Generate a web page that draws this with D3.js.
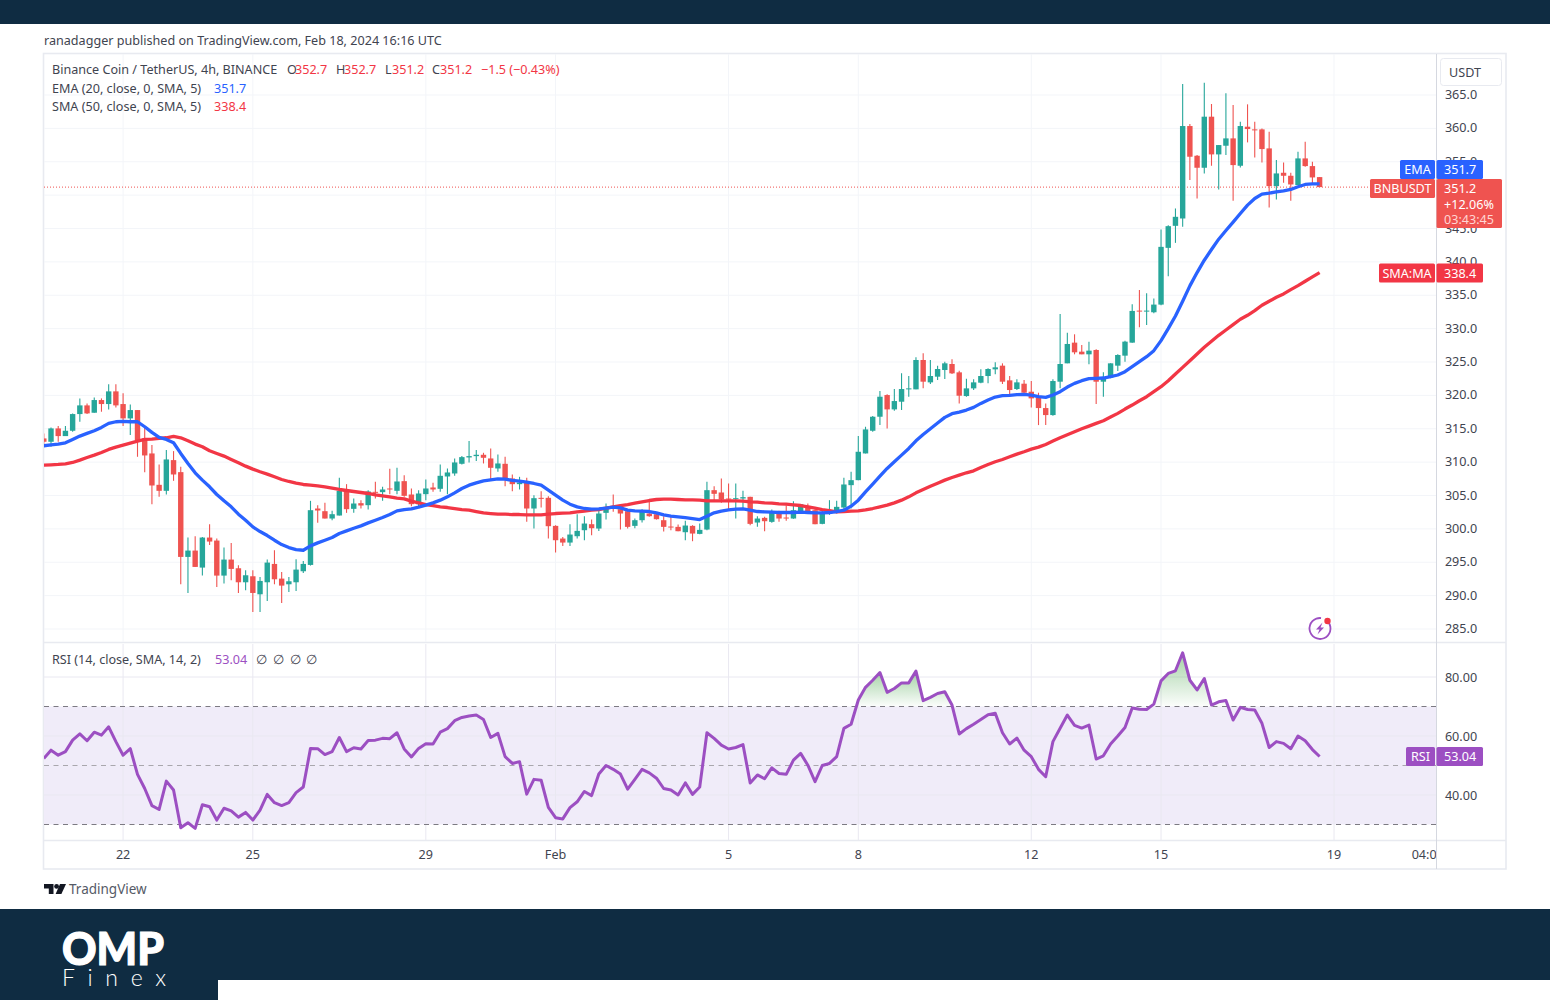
<!DOCTYPE html>
<html>
<head>
<meta charset="utf-8">
<script src="https://cdn.jsdelivr.net/npm/d3@7"></script>
<style>
html,body{margin:0;padding:0;background:#fff;}
svg{display:block;}
text{font-family:"Noto Sans","Open Sans",sans-serif;}
</style>
</head>
<body>
<svg id="c" width="1550" height="1000"></svg>
<script>
const opens=[313.55,313.05,315.05,313.9,314.7,317.2,318.5,317.4,319.3,318.7,320.6,318.7,316.55,317.8,313.55,311.3,306.6,305.7,310.3,308.5,295.8,296.75,294.2,298.7,298.25,293,295.4,294.1,292,292.9,290.2,292,294.75,292.55,291.7,292,293.65,294.6,303.05,302.65,301.55,302,305.7,303,303.85,303.55,305.55,305.5,306.05,305.7,
307.15,305.15,303.7,305.2,306.2,306,307.85,308.3,309.75,310.7,310.9,311.1,310.55,309.05,309.75,307.55,306.7,306.95,303.05,304.65,304.65,300.45,298.55,297.95,298.9,299.8,300.7,300.05,302.4,303.4,302.95,302.65,300.45,301.3,302.3,302.2,301.3,300.35,300.3,299.5,300.45,299.25,299.9,305.8,305.45,304.55,304.5,304.55,304.8,300.95,301.65,301.05,302.25,301.7,301.55,302.55,303.45,302.8,300.75,302.4,302.55,303.2,306.55,307.3,
311.3,314.7,316.8,320.05,317.9,319.05,320.9,320.9,325.3,321.95,322.8,323.8,324.7,323.45,319.9,321.05,321.9,322.9,323.9,324.45,322.25,320.95,321.75,320.55,319.65,318.1,317.05,322.05,324.8,327.9,326.55,326.15,326.8,322.05,322.65,324.45,325.95,327.9,332.7,332.55,332.45,333.6,
342.1,345.4,346.5,360.35,355.9,354.1,361.75,356.1,357.4,358.5,354.4,360.25,359.85,359.85,357,351.35,353.35,352.9,351.5,355.5,354.35,352.7];
const highs=[314.3,315.2,315.4,315.4,317.3,319.55,318.8,319.7,319.55,321.65,321.65,320.3,318.65,317.8,315.3,312.55,309.65,311.8,311.65,309.3,298.7,298.9,298.8,300.7,298.55,297.2,297.9,294.55,293.8,293.8,292.8,295.4,296.8,293.55,292.8,295.45,295.2,304.2,303.55,303.9,302.7,307.65,306.7,304.55,304.3,305.8,307.05,306.3,309,309.15,
308.05,306.05,305.8,307.4,306.9,309.65,309.05,310.55,310.9,313.15,311.8,311.4,312.05,311.15,310.8,308.15,307.8,307.65,305.05,305.65,304.9,300.55,298.8,300.7,302.2,301.9,301.4,302.8,303.8,305.15,303.4,302.8,301.55,302.95,304.05,302.4,301.9,301.8,300.65,301.2,300.55,300.8,307.05,306.4,307.55,306.8,306.8,305.7,304.8,301.9,301.8,302.9,302.7,303.55,304.15,303.7,303.8,302.9,302.8,304.3,304.2,307.65,308.55,313.9,
315.3,316.9,320.65,320.15,320.95,323.3,322.9,325.7,326.3,325.3,324.45,325.05,325.4,323.7,322.5,322.4,323.9,324.05,324.95,324.8,322.9,322.4,322.3,322.15,320.4,318.8,322.4,332.2,329.4,329.15,327.55,328.05,326.9,323.45,324.8,326.15,328.2,333.65,335.8,335.3,334.5,344.85,
345.5,348,366.65,360.65,356,366.85,363.65,357.5,365.25,363.5,361,363.6,361,360,359.5,355.25,354.9,353.35,356.5,358,355,352.7];
const lows=[312.7,312.3,313.05,313.9,314.55,316.05,317.2,317.4,317.55,317.9,318.2,315.4,314.05,310.8,308.5,303.7,304.8,305.15,307.2,291.7,290.4,294.3,293,297.6,291.3,291.8,292.3,290.4,290.8,287.55,287.55,289.2,291.7,288.9,290.55,290.7,293.4,294.5,300.9,301.55,301.3,302,302.4,302.4,303.05,302.9,304.55,304.2,305.2,305.2,
304.8,303.4,303.2,304.3,305.55,305.55,305.2,307.95,309.65,309.95,310.15,309.8,307.4,308.55,306.4,305.65,305.9,301.05,300.05,303.2,298.55,296.45,297.45,297.45,298.55,298.3,299.05,299.7,301.4,302.55,299.9,300.05,300.1,300.95,301.8,301.4,299.6,299.8,299.65,298.3,298.15,299.2,299.8,304.3,303.9,302.9,301.55,303.05,300.55,300.3,299.65,300.9,301.05,301.2,301.5,302.4,302.4,300.7,300.7,302.1,302.3,302.9,303.05,307.3,
311.3,314.55,315.55,315.05,317.7,317.8,319.8,320.9,321.05,321.7,322.3,322.45,323.2,318.8,319.8,320.8,321.8,321.8,323.15,321.7,320.05,320.8,320.2,318.2,315.55,315.55,316.95,321.05,324.8,326.15,326.15,324.65,318.7,319.8,322.55,323.65,325.05,327.9,330.2,330.55,332.3,333.5,
337.85,342.85,345.25,352.25,349.5,353.25,354.4,350.85,356,349.15,354.15,357.9,355.65,354.9,348.15,349.35,351.85,349.15,351.5,354.25,351.65,351.2];
const closes=[313.05,315.05,313.9,314.7,317.2,318.5,317.3,319.3,318.7,320.6,318.5,316.55,317.8,313.3,311,306.5,305.7,310.4,308.15,295.8,296.75,294.3,298.7,298.1,293,295.4,294,292,293.05,290.4,292.2,294.95,292.45,291.5,292.15,293.9,294.75,302.8,302.75,301.55,302.2,305.7,302.95,303.8,303.5,305.6,305.4,305.9,305.9,307.1,
304.95,303.7,305.3,306.05,305.9,307.95,308.45,309.95,310.75,310.9,311.1,310.65,309.15,309.8,307.4,306.7,306.95,303.05,304.6,304.55,300.4,298.3,297.95,299.15,299.7,300.8,300.1,302.3,303.3,303,302.3,300.3,301.3,302.55,301.9,301.45,300.3,300.2,299.65,300.5,299.3,299.85,305.8,305.25,304.4,304.4,304.6,304.75,300.75,301.55,301.15,302.4,301.55,301.55,302.8,303.7,302.55,300.7,302.4,302.7,303.3,306.65,307.3,311.55,
314.9,316.8,319.8,317.9,319.15,320.95,321.05,325.3,322.05,322.9,323.95,324.8,323.3,319.95,321.05,321.95,322.9,323.95,324.2,322.05,320.8,321.95,320.4,319.55,318.1,317.05,322.15,324.7,327.7,326.45,326.15,326.7,322.05,322.65,324.8,326.05,328.05,332.65,332.55,332.7,333.6,342.25,
345.35,346.75,360.35,355.75,354.1,361.75,356.1,357.5,358.5,354.5,360.35,359.9,359.75,356.9,351.35,353.25,352.9,351.6,355.5,354.35,352.65,351.2];
const emaValues=[312.45,312.6,312.7,312.9,313.4,313.9,314.3,314.7,315.2,315.8,316.05,316.1,316.05,316.05,315.3,314.45,313.7,313.4,312.9,311.3,309.8,308.4,307.3,306.3,305.15,304.2,303.3,302.2,301.3,300.3,299.6,299,298.3,297.65,297.2,296.9,296.8,297.45,297.9,298.3,298.7,299.3,299.7,300.1,300.45,300.9,301.3,301.7,302.15,302.7,
302.9,303,303.25,303.55,303.9,304.3,304.8,305.4,306.05,306.55,306.9,307.2,307.35,307.5,307.45,307.25,307.15,307,306.8,306.55,305.8,305.05,304.3,303.7,303.3,303.05,302.95,303,303.1,303.25,303.15,302.8,302.7,302.65,302.6,302.4,302.1,301.9,301.8,301.7,301.55,301.4,301.9,302.4,302.65,302.85,302.95,303,302.8,302.6,302.55,302.5,302.45,302.45,302.45,302.5,302.45,302.4,302.4,302.45,302.6,302.8,303.4,304.3,
305.55,306.7,307.9,309.05,310.05,311.05,312.05,313.2,314.15,315,315.85,316.7,317.25,317.5,317.8,318.2,318.8,319.3,319.75,319.95,320,320.1,320.15,320.05,319.8,319.7,320.05,320.55,321.25,321.8,322.2,322.5,322.55,322.6,322.8,323.05,323.55,324.3,325.05,325.8,326.7,328.2,
330,331.9,334.1,336.4,338.4,340.25,341.85,343.4,344.7,345.95,347.25,348.5,349.5,350.15,350.3,350.5,350.65,350.85,351.25,351.6,351.7,351.7];
const smaValues=[309.55,309.6,309.65,309.75,309.95,310.3,310.7,311.05,311.45,311.9,312.25,312.55,312.85,313.15,313.4,313.45,313.55,313.65,313.85,313.65,313.2,312.7,312.3,311.7,311.3,310.9,310.4,309.9,309.4,308.95,308.55,308.2,307.8,307.4,307.1,306.85,306.65,306.55,306.45,306.3,306.1,305.9,305.75,305.6,305.45,305.3,305.1,304.95,304.8,304.6,
304.5,304.15,303.9,303.65,303.5,303.3,303.2,303.05,302.9,302.8,302.6,302.4,302.3,302.2,302.2,302.15,302.15,302.1,302.1,302.1,302.2,302.3,302.35,302.4,302.55,302.65,302.8,302.9,303.1,303.3,303.5,303.65,303.85,304.05,304.25,304.4,304.45,304.45,304.4,304.35,304.35,304.3,304.2,304.2,304.2,304.2,304.2,304.15,304.05,304,303.9,303.85,303.75,303.7,303.6,303.5,303.3,303.1,302.9,302.75,302.55,302.6,302.65,302.7,
302.85,303.05,303.3,303.55,303.9,304.3,304.8,305.4,305.9,306.4,306.85,307.3,307.7,308.05,308.4,308.7,309.2,309.65,310.05,310.4,310.8,311.2,311.55,311.95,312.25,312.65,313.15,313.65,314.1,314.55,315,315.4,315.8,316.2,316.75,317.3,317.95,318.55,319.2,319.8,320.55,321.3,
322.2,323.2,324.2,325.2,326.2,327.2,328.1,329,329.8,330.6,331.4,332,332.7,333.5,334.1,334.7,335.2,335.85,336.45,337.1,337.75,338.4];
const rsiValues=[52.4,55.2,53.5,54.7,58.6,60.7,58.4,61.3,60.3,63.1,58.1,53.5,55.7,47,42.2,36.4,35.1,44.7,41.7,28.9,30.6,28.7,36.7,36,31.5,35.5,34.6,32.5,34.1,31.5,34.9,40.2,37.4,36.4,37.4,40.8,42.7,55.8,55.7,53.7,54.7,59.5,54.7,56,55.6,58.5,58.6,59.2,59.1,61.1,
55.6,52.9,55.8,57.4,57.3,61.3,62.5,65.2,66.3,66.8,67.1,65.6,59.5,60.9,53,50.7,51.3,40.3,45.3,45,35.8,32.3,31.9,35.7,37.7,41.2,39.8,47.1,50,48.7,47.1,42,45.3,48.7,47.5,45.7,42.2,41.7,40,44.1,40.2,42.7,61.1,59.2,56.9,55.6,56.1,57.1,44.1,46.8,45.5,49.2,47.3,47,51.8,54.1,50.1,44.5,50,50.7,53,62.6,64,72.2,
76.5,78.9,81.5,74.8,76.1,78,78,82,72,73.1,74.4,75,70.5,60.7,62.5,64,65.6,67.2,67.7,61.1,57.3,59.3,55.2,53,48.7,46.2,58.1,62.6,67.1,63.6,62.7,63.7,52.2,53.3,57.3,60,62.9,69.5,69.1,69,70.8,78.7,
81.2,82.1,88.2,78.9,75.6,79.5,70.5,71.6,72,65.4,69.7,69,68.8,64.3,56.1,58.1,57.5,55.7,60,58.4,55.4,53.04];
const dateTickBars=[11,29,53,71,95,113,137,155,179,192];
const dateTickLabels=["22","25","29","Feb","5","8","12","15","19","04:00"];
const priceTicks=[285,290,295,300,305,310,315,320,325,330,335,340,345,350,355,360,365];
const hiddenPriceLabels=[350];
const rsiTicks=[40,60,80];
const rsiGrid=[40,60,80];
const rsiLevels=[30,50,70];
const lastPrice=351.2, lastEma=351.7, lastSma=338.4, lastRsi=53.04;

const NAVY="#0f2c42", GREEN="#26a69a", RED="#ef5350", BLUE="#2962ff", SMACOL="#f23645", PURPLE="#9c4fc2";
const TXT="#3f4450", GRID="#f3f5f9", BORDER="#e8eaf0";
const FS=12.6;
const L=44, R=1436, PT=54, PB=642, RT=644, RB=840, OB=869, OR=1506;

const svg=d3.select("#c");
const defs=svg.append("defs");
defs.append("clipPath").attr("id","plot").append("rect").attr("x",L).attr("y",PT).attr("width",R-L).attr("height",PB-PT);
defs.append("clipPath").attr("id","rplot").append("rect").attr("x",L).attr("y",RT).attr("width",R-L).attr("height",RB-RT);
defs.append("clipPath").attr("id","tplot").append("rect").attr("x",L).attr("y",RB).attr("width",R-L).attr("height",OB-RB);
const grad=defs.append("linearGradient").attr("id","ob").attr("x1",0).attr("x2",0).attr("y1",0).attr("y2",1).attr("gradientUnits","objectBoundingBox");
grad.append("stop").attr("offset","0%").attr("stop-color","#66b368").attr("stop-opacity",0.6);
grad.append("stop").attr("offset","100%").attr("stop-color","#66b368").attr("stop-opacity",0.02);

const x=d3.scaleLinear().domain([0,177]).range([43.8,43.8+7.208*177]);
const y=d3.scaleLinear().domain([285,365]).range([629,95]);
const ry=d3.scaleLinear().domain([40,80]).range([795,677]);

// page bars
svg.append("rect").attr("width",1550).attr("height",24).attr("fill",NAVY);
svg.append("rect").attr("y",909).attr("width",1550).attr("height",91).attr("fill",NAVY);
svg.append("rect").attr("x",218).attr("y",980).attr("width",1332).attr("height",20).attr("fill","#fff");

// frame
const frame=svg.append("g").attr("fill","none").attr("stroke",BORDER).attr("stroke-width",1.6);
frame.append("rect").attr("x",43.5).attr("y",53.5).attr("width",OR-43.5).attr("height",OB-53.5);
frame.append("line").attr("x1",L).attr("x2",OR).attr("y1",642.5).attr("y2",642.5);
frame.append("line").attr("x1",L).attr("x2",OR).attr("y1",840.5).attr("y2",840.5);
svg.append("line").attr("x1",1436.5).attr("x2",1436.5).attr("y1",54).attr("y2",OB).attr("stroke","#d5d8e0").attr("stroke-width",1);

// grids
svg.append("g").selectAll("line").data(priceTicks).join("line").attr("x1",L).attr("x2",R)
  .attr("y1",d=>y(d)).attr("y2",d=>y(d)).attr("stroke",GRID).attr("stroke-width",1);
svg.append("g").selectAll("line").data(dateTickBars.slice(0,9)).join("line").attr("y1",PT).attr("y2",PB)
  .attr("x1",d=>x(d)).attr("x2",d=>x(d)).attr("stroke",GRID).attr("stroke-width",1);

// RSI band & grids
const rp=svg.append("g").attr("clip-path","url(#rplot)");
rp.append("rect").attr("x",L).attr("width",R-L).attr("y",ry(70)).attr("height",ry(30)-ry(70)).attr("fill","#f0ecf9");
rp.selectAll(".g").data(rsiGrid).join("line").attr("x1",L).attr("x2",R).attr("y1",d=>ry(d)).attr("y2",d=>ry(d)).attr("stroke","#e9e8f1");
rp.selectAll(".v").data(dateTickBars.slice(0,9)).join("line").attr("y1",RT).attr("y2",RB).attr("x1",d=>x(d)).attr("x2",d=>x(d)).attr("stroke","#e9e8f1");

// price-line
svg.append("line").attr("x1",L).attr("x2",R).attr("y1",y(lastPrice)).attr("y2",y(lastPrice))
  .attr("stroke",RED).attr("stroke-width",1).attr("stroke-dasharray","1 2");

// candles
const plot=svg.append("g").attr("clip-path","url(#plot)");
const idx=d3.range(closes.length);
plot.append("g").selectAll("line").data(idx).join("line")
  .attr("x1",i=>x(i)).attr("x2",i=>x(i)).attr("y1",i=>y(highs[i])).attr("y2",i=>y(lows[i]))
  .attr("stroke",i=>closes[i]>=opens[i]?GREEN:RED).attr("stroke-width",1.1);
plot.append("g").selectAll("rect").data(idx).join("rect")
  .attr("x",i=>x(i)-2.7).attr("width",5.4)
  .attr("y",i=>y(Math.max(opens[i],closes[i])))
  .attr("height",i=>Math.max(1,Math.abs(y(opens[i])-y(closes[i]))))
  .attr("fill",i=>closes[i]>=opens[i]?GREEN:RED);

// averages
const lineOf=(arr,sc)=>d3.line().x((d,i)=>x(i)).y(d=>sc(d))(arr);
plot.append("path").attr("d",lineOf(smaValues,y)).attr("fill","none").attr("stroke",SMACOL).attr("stroke-width",3.3).attr("stroke-linejoin","round");
plot.append("path").attr("d",lineOf(emaValues,y)).attr("fill","none").attr("stroke",BLUE).attr("stroke-width",3.3).attr("stroke-linejoin","round");

// RSI overbought fills & line
const obGroups=[];
let cur=null;
rsiValues.forEach((v,i)=>{
  if(v>70){ if(!cur){cur=[];obGroups.push(cur);if(i>0)cur.push({i:i-1+(70-rsiValues[i-1])/(v-rsiValues[i-1]),v:70});} cur.push({i,v}); }
  else if(cur){ const p=rsiValues[i-1]; cur.push({i:i-1+(p-70)/(p-v),v:70}); cur=null; }
});
const areaOb=d3.area().x(d=>x(d.i)).y0(ry(70)).y1(d=>ry(d.v));
rp.selectAll(".ob").data(obGroups).join("path").attr("d",d=>areaOb(d)).attr("fill","url(#ob)");
rp.selectAll(".lvl").data(rsiLevels).join("line").attr("x1",L).attr("x2",R).attr("y1",d=>ry(d)).attr("y2",d=>ry(d))
  .attr("stroke",d=>d===50?"#a9a7ad":"#7c7a82").attr("stroke-width",1).attr("stroke-dasharray","5 4.5");
rp.append("path").attr("d",lineOf(rsiValues,ry)).attr("fill","none").attr("stroke",PURPLE).attr("stroke-width",3).attr("stroke-linejoin","round");

// axes text
const tick=(g,a,b,c,anchor,fill,size)=>g.append("text").attr("x",a).attr("y",b).text(c).attr("text-anchor",anchor||"start").attr("dominant-baseline","central").attr("fill",fill||TXT).attr("font-size",size||FS);
const pa=svg.append("g");
priceTicks.filter(p=>!hiddenPriceLabels.includes(p)).forEach(p=>tick(pa,1461,y(p)-0.5,p.toFixed(1),"middle"));
rsiTicks.forEach(p=>tick(pa,1461,ry(p),p.toFixed(2),"middle"));
const ta=svg.append("g").attr("clip-path","url(#tplot)");
dateTickBars.forEach((b,i)=>tick(ta,x(b),854.5,dateTickLabels[i],"middle"));

// tags
function tag(lx,ly,lw,lh,col,label,vw,vh,lines){
  const g=svg.append("g");
  g.append("rect").attr("x",lx).attr("y",ly).attr("width",lw).attr("height",lh).attr("rx",1.5).attr("fill",col);
  g.append("rect").attr("x",1436.5).attr("y",ly).attr("width",vw).attr("height",vh).attr("rx",1.5).attr("fill",col);
  tick(g,lx+lw/2,ly+lh/2,label,"middle","#fff");
  lines.forEach((t,i)=>tick(g,1444,ly+lh/2+i*15.6,t,"start",i===2?"#ffd5d3":"#fff"));
}
tag(1400,160,35,19,BLUE,"EMA",46.5,19,[lastEma.toFixed(1)]);
tag(1370,179,65,19,RED,"BNBUSDT",65.5,49,[lastPrice.toFixed(1),"+12.06%","03:43:45"]);
tag(1379,263.5,56,19,SMACOL,"SMA:MA",46.5,19,[lastSma.toFixed(1)]);
tag(1406,747,29,19,PURPLE,"RSI",46.5,19,[lastRsi.toFixed(2)]);

// USDT button
svg.append("rect").attr("x",1440.5).attr("y",58.5).attr("width",61).attr("height",27).attr("rx",3).attr("fill","#fff").attr("stroke",BORDER);
tick(svg,1465,72.5,"USDT","middle");

// Legends
const lg=svg.append("g");
tick(lg,44,40,"ranadagger published on TradingView.com, Feb 18, 2024 16:16 UTC");
function rich(yy,parts){
  parts.forEach(p=>tick(lg,p[0],yy,p[1],"start",p[2]||TXT));
}
rich(69.5,[[52,"Binance Coin / TetherUS, 4h, BINANCE"],[287,"O"],[295,"352.7",SMACOL],[336,"H"],[344,"352.7",SMACOL],[385,"L"],[392,"351.2",SMACOL],[432,"C"],[440,"351.2",SMACOL],[481,"−1.5 (−0.43%)",SMACOL]]);
rich(88,[[52,"EMA (20, close, 0, SMA, 5)"],[214,"351.7",BLUE]]);
rich(106.5,[[52,"SMA (50, close, 0, SMA, 5)"],[214,"338.4",SMACOL]]);
rich(659.5,[[52,"RSI (14, close, SMA, 14, 2)"],[215,"53.04",PURPLE],[256,"∅"],[273,"∅"],[290,"∅"],[306,"∅"]]);

// bolt icon
const ic=svg.append("g").attr("transform","translate(1320,628.5)");
ic.append("path").attr("d",d3.arc()({innerRadius:9.6,outerRadius:11.4,startAngle:0.95,endAngle:2*Math.PI+0.1})).attr("fill",PURPLE);
ic.append("path").attr("d","M2.5,-6 L-4,1 L-0.5,1 L-2.5,6 L4,-1 L0.5,-1 Z").attr("fill",PURPLE);
ic.append("circle").attr("cx",7.5).attr("cy",-7.5).attr("r",3.2).attr("fill",SMACOL);

// TradingView logo
const tv=svg.append("g").attr("transform","translate(44,884)").attr("fill","#131722");
tv.append("path").attr("d","M0,0 H9.5 V10 H4.8 V4.5 H0 Z");
tv.append("circle").attr("cx",12.6).attr("cy",2.4).attr("r",2.4);
tv.append("path").attr("d","M16,0 H22 L17.4,10 H11.6 Z");
tick(svg,69,889,"TradingView","start","#555a66",13.5);

// OMP Finex
svg.append("text").attr("x",62).attr("y",965).text("OMP").attr("fill","#fff").attr("stroke","#fff").attr("stroke-width",1.2).attr("font-size",45).attr("font-weight",900).attr("textLength",102).attr("lengthAdjust","spacingAndGlyphs").style("font-family","Lato");
svg.append("text").attr("x",62).attr("y",986).text("Finex").attr("fill","#fff").attr("font-size",23).attr("font-weight",300).attr("textLength",104).style("font-family","Lato");
</script>
</body>
</html>
